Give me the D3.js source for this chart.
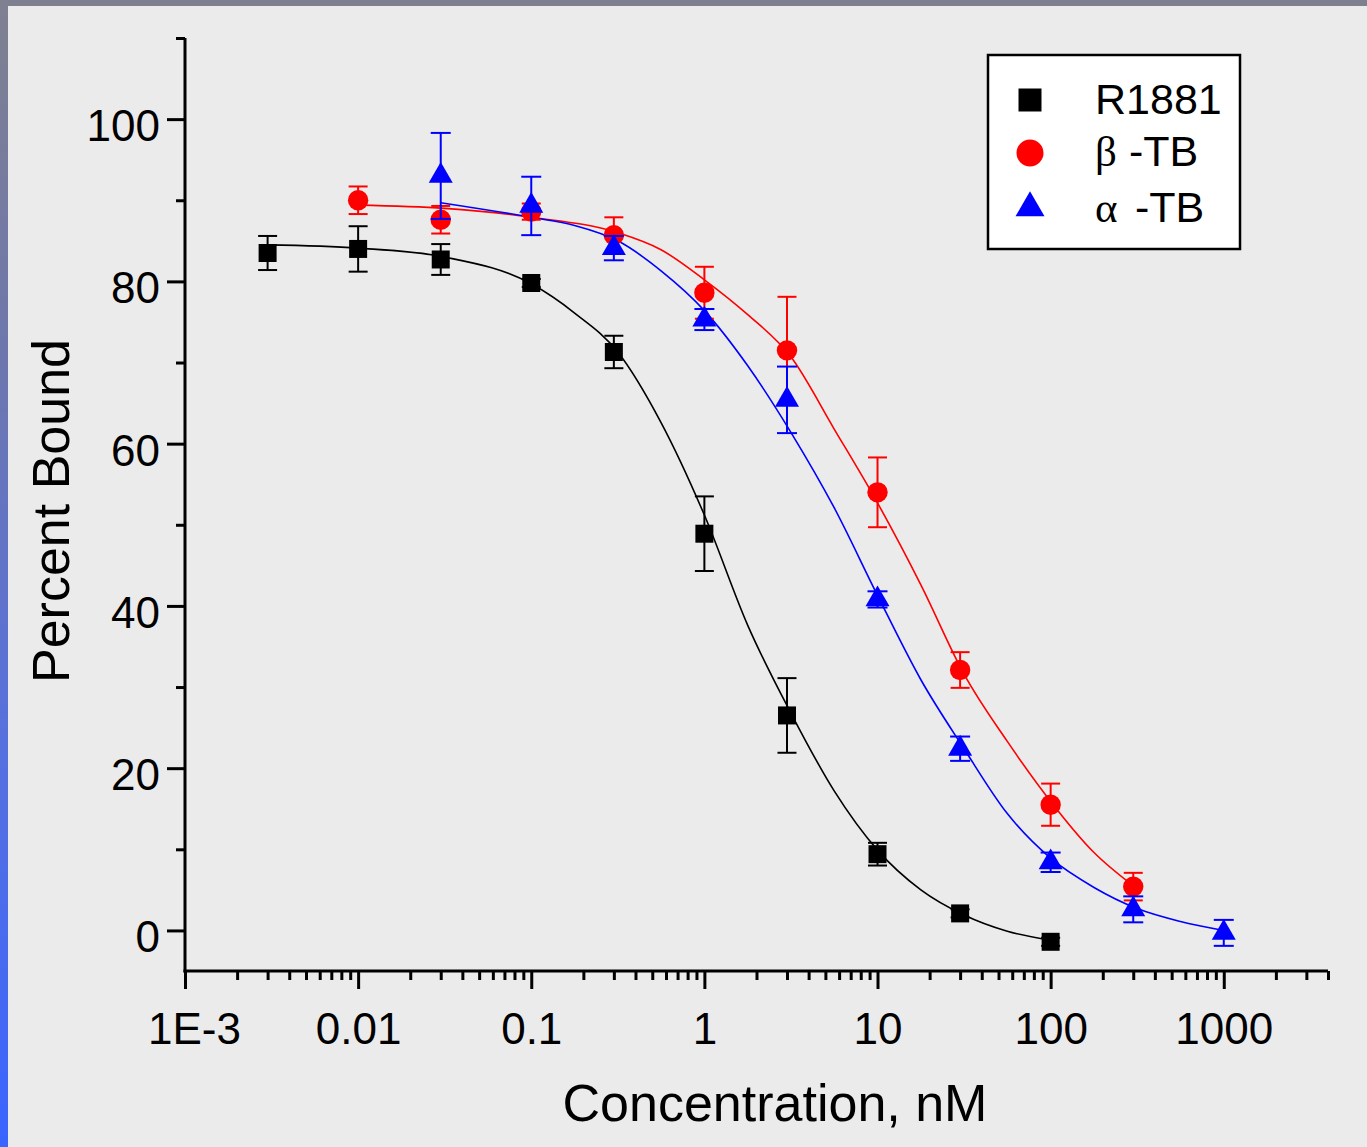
<!DOCTYPE html>
<html>
<head>
<meta charset="utf-8">
<script src="https://cdn.jsdelivr.net/npm/d3@7"></script>
<style>
  body { margin: 0; padding: 0; background: #ebebeb; }
  svg { display: block; }
  text { font-family: "Liberation Sans", Arial, sans-serif; fill: #000; }
</style>
</head>
<body>
<svg id="chart" width="1367" height="1147"></svg>
<script>
// ---------------- DATA ----------------
const xTickValues = [0.001, 0.01, 0.1, 1, 10, 100, 1000];
const xTickLabels = ["1E-3", "0.01", "0.1", "1", "10", "100", "1000"];
const yTickValues = [0, 20, 40, 60, 80, 100];
const yTickLabels = ["0", "20", "40", "60", "80", "100"];
const yMinorTicks = [10, 30, 50, 70, 90, 110];

// measured points
const r1881Conc = [0.003, 0.01, 0.03, 0.1, 0.3, 1, 3, 10, 30, 100];
const r1881Val  = [83.5, 84.0, 82.7, 79.8, 71.3, 48.9, 26.5, 9.4, 2.1, -1.4];
const r1881Err  = [2.1, 2.8, 1.9, 0.5, 2.0, 4.6, 4.6, 1.4, 0.5, 0.5];

const betaConc = [0.01, 0.03, 0.1, 0.3, 1, 3, 10, 30, 100, 300];
const betaVal  = [90.0, 87.6, 88.6, 85.7, 78.6, 71.5, 54.0, 32.1, 15.5, 5.4];
const betaErr  = [1.7, 1.7, 1.0, 2.2, 3.2, 6.6, 4.3, 2.2, 2.6, 1.7];

const alphaConc = [0.03, 0.1, 0.3, 1, 3, 10, 30, 100, 300, 1000];
const alphaVal  = [93.0, 89.3, 84.1, 75.3, 65.4, 40.8, 22.4, 8.4, 2.6, -0.3];
const alphaErr  = [5.3, 3.6, 1.5, 1.3, 4.1, 1.0, 1.5, 1.2, 1.6, 1.6];

// fitted curves
const r1881FitConc = [0.003, 0.01, 0.0316, 0.1, 0.178, 0.316, 0.562, 1, 1.78, 3.16, 5.62, 10, 17.8, 31.6, 56.2, 100];
const r1881FitVal  = [84.5, 84.1, 83.0, 79.7, 76.1, 71.3, 62.6, 51.2, 37.6, 26.8, 17.2, 9.9, 5.0, 1.9, -0.1, -1.2];

const betaFitConc = [0.01, 0.0316, 0.1, 0.316, 0.562, 1, 1.78, 3.16, 5.62, 10, 17.8, 31.6, 56.2, 100, 178, 300];
const betaFitVal  = [89.4, 89.0, 87.9, 86.0, 83.9, 80.2, 75.9, 70.7, 61.8, 52.7, 42.6, 31.6, 23.3, 15.9, 9.6, 5.5];

const alphaFitConc = [0.03, 0.1, 0.178, 0.316, 0.562, 1, 1.78, 3.16, 5.62, 10, 17.8, 31.6, 56.2, 100, 178, 316, 562, 1000];
const alphaFitVal  = [89.7, 87.9, 86.9, 85.0, 81.3, 76.4, 69.6, 61.4, 52.1, 41.3, 30.9, 22.4, 14.4, 8.9, 5.3, 2.7, 1.1, 0.0];

const seriesNames = ["R1881", "\u03b2", "\u03b1"];
const seriesColors = ["#000000", "#ff0000", "#0000ff"];

// ---------------- CHART ----------------
const svg = d3.select("#chart");

// frame
const defs = svg.append("defs");
const grad = defs.append("linearGradient").attr("id", "lg").attr("x1", 0).attr("y1", 0).attr("x2", 0).attr("y2", 1);
grad.append("stop").attr("offset", "0%").attr("stop-color", "#7f8090");
grad.append("stop").attr("offset", "30%").attr("stop-color", "#6e77ac");
grad.append("stop").attr("offset", "65%").attr("stop-color", "#5670de");
grad.append("stop").attr("offset", "100%").attr("stop-color", "#3a64ff");

svg.append("rect").attr("width", 1367).attr("height", 1147).attr("fill", "#ebebeb");
svg.append("rect").attr("x", 0).attr("y", 0).attr("width", 1367).attr("height", 6).attr("fill", "#7e808f");
svg.append("rect").attr("x", 0).attr("y", 0).attr("width", 8).attr("height", 1147).attr("fill", "url(#lg)");

const x = d3.scaleLog().domain([0.001, 4000]).range([185, 1328]);
const y = d3.scaleLinear().domain([-5, 110]).range([971, 38]);

// minor x ticks
const xMinor = [];
xTickValues.forEach(d => { for (let m = 2; m <= 9; m++) { const v = m * d; if (v <= 4000) xMinor.push(v); } });

// X axis
const gxMinor = svg.append("g").attr("transform", "translate(0,971)");
gxMinor.call(d3.axisBottom(x).tickValues(xMinor).tickSize(9).tickSizeOuter(0).tickFormat(""));
gxMinor.select("path.domain").remove();
gxMinor.selectAll("line").attr("stroke", "#000").attr("stroke-width", 3);

const gx = svg.append("g").attr("transform", "translate(0,971)");
gx.call(d3.axisBottom(x).tickValues(xTickValues).tickSize(18).tickSizeOuter(0)
  .tickFormat((d, i) => xTickLabels[i]));
gx.selectAll("path.domain").attr("stroke", "#000").attr("stroke-width", 3)
  .attr("d", `M${x.range()[0] - 1.5},0H${x.range()[1]}`);
gx.selectAll("line").attr("stroke", "#000").attr("stroke-width", 3);
gx.selectAll("text").attr("font-size", 44)
  .style("font-family", '"Liberation Sans", Arial, sans-serif')
  .attr("dx", (d, i) => i === 0 ? 9 : 0)
  .attr("dy", 0).attr("y", 73);

// Y axis
const gyMinor = svg.append("g").attr("transform", "translate(185,0)");
gyMinor.call(d3.axisLeft(y).tickValues(yMinorTicks).tickSize(9).tickSizeOuter(0).tickFormat(""));
gyMinor.select("path.domain").remove();
gyMinor.selectAll("line").attr("stroke", "#000").attr("stroke-width", 3);

const gy = svg.append("g").attr("transform", "translate(185,0)");
gy.call(d3.axisLeft(y).tickValues(yTickValues).tickSize(18).tickSizeOuter(0)
  .tickFormat((d, i) => yTickLabels[i]));
gy.selectAll("path.domain").attr("stroke", "#000").attr("stroke-width", 3)
  .attr("d", `M0,${y.range()[1]}V${y.range()[0] + 1.5}`);
gy.selectAll("line").attr("stroke", "#000").attr("stroke-width", 3);
gy.selectAll("text").attr("font-size", 44).attr("x", -25).attr("dy", 0)
  .attr("transform", "translate(0,21.5)")
  .style("font-family", '"Liberation Sans", Arial, sans-serif');

// axis titles
svg.append("text").attr("x", 775).attr("y", 1121).attr("text-anchor", "middle")
  .attr("font-size", 52).text("Concentration, nM");
svg.append("text").attr("transform", "translate(69,511) rotate(-90)").attr("text-anchor", "middle")
  .attr("font-size", 52).text("Percent Bound");

// curves
const line = d3.line().x(d => x(d[0])).y(d => y(d[1])).curve(d3.curveMonotoneX);
const fits = [
  [r1881FitConc, r1881FitVal],
  [betaFitConc, betaFitVal],
  [alphaFitConc, alphaFitVal]
];
fits.forEach((f, si) => {
  const pts = f[0].map((c, i) => [c, f[1][i]]);
  svg.append("path").datum(pts).attr("d", line).attr("fill", "none")
    .attr("stroke", seriesColors[si]).attr("stroke-width", 1.6);
});

// points + error bars
const sets = [
  [r1881Conc, r1881Val, r1881Err],
  [betaConc, betaVal, betaErr],
  [alphaConc, alphaVal, alphaErr]
];
const capW = [19, 19, 20];
sets.forEach((s, si) => {
  const data = s[0].map((c, i) => ({ c, v: s[1][i], e: s[2][i] }));
  const col = seriesColors[si];
  const g = svg.append("g");
  const eb = g.selectAll("g.eb").data(data).join("g").attr("class", "eb");
  eb.append("line").attr("x1", d => x(d.c)).attr("x2", d => x(d.c))
    .attr("y1", d => y(d.v + d.e)).attr("y2", d => y(d.v - d.e))
    .attr("stroke", col).attr("stroke-width", 2);
  eb.append("line").attr("x1", d => x(d.c) - capW[si] / 2).attr("x2", d => x(d.c) + capW[si] / 2)
    .attr("y1", d => y(d.v + d.e)).attr("y2", d => y(d.v + d.e))
    .attr("stroke", col).attr("stroke-width", 2);
  eb.append("line").attr("x1", d => x(d.c) - capW[si] / 2).attr("x2", d => x(d.c) + capW[si] / 2)
    .attr("y1", d => y(d.v - d.e)).attr("y2", d => y(d.v - d.e))
    .attr("stroke", col).attr("stroke-width", 2);
  let sym;
  if (si === 0) sym = d3.symbol(d3.symbolSquare, 18 * 18);
  else if (si === 1) sym = d3.symbol(d3.symbolCircle, Math.PI * 10.2 * 10.2);
  else sym = d3.symbol(d3.symbolTriangle, 24 * 24 * Math.sqrt(3) / 4);
  g.selectAll("path.m").data(data).join("path").attr("class", "m")
    .attr("transform", d => `translate(${x(d.c)},${y(d.v)})`)
    .attr("d", sym).attr("fill", col);
});

// legend
const lg = svg.append("g");
lg.append("rect").attr("x", 988).attr("y", 55).attr("width", 252).attr("height", 194)
  .attr("fill", "#ffffff").attr("stroke", "#000").attr("stroke-width", 2.5);
const legY = [100, 153, 208];
const legBase = [114, 166, 222];
lg.append("path").attr("transform", `translate(1030,${legY[0]})`)
  .attr("d", d3.symbol(d3.symbolSquare, 23 * 23)).attr("fill", seriesColors[0]);
lg.append("path").attr("transform", `translate(1030,${legY[1]})`)
  .attr("d", d3.symbol(d3.symbolCircle, Math.PI * 13.5 * 13.5)).attr("fill", seriesColors[1]);
lg.append("path").attr("transform", `translate(1030,${legY[2]})`)
  .attr("d", d3.symbol(d3.symbolTriangle, 29 * 29 * Math.sqrt(3) / 4)).attr("fill", seriesColors[2]);

lg.append("text").attr("x", 1095).attr("y", legBase[0]).attr("font-size", 43).text(seriesNames[0]);
const t1 = lg.append("text").attr("y", legBase[1]).attr("font-size", 43);
t1.append("tspan").attr("x", 1095).style("font-family", '"Liberation Serif", "Times New Roman", serif').text(seriesNames[1]);
t1.append("tspan").attr("x", 1129).text("-TB");
const t2 = lg.append("text").attr("y", legBase[2]).attr("font-size", 43);
t2.append("tspan").attr("x", 1095).style("font-family", '"Liberation Serif", "Times New Roman", serif').text(seriesNames[2]);
t2.append("tspan").attr("x", 1135).text("-TB");
</script>
</body>
</html>
